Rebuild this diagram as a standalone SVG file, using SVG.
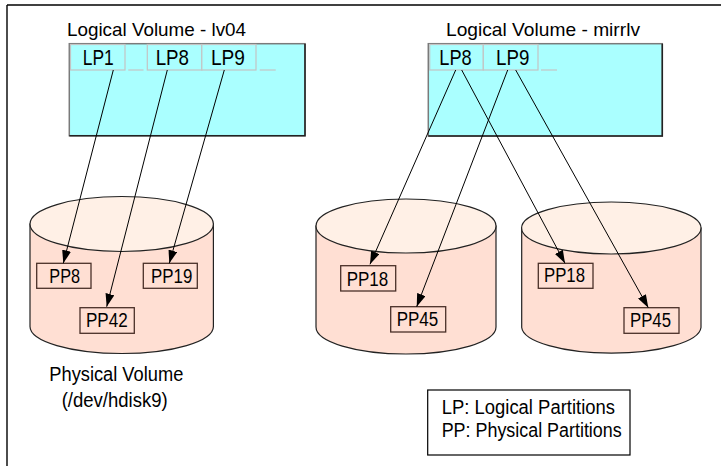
<svg xmlns="http://www.w3.org/2000/svg" width="721" height="466" viewBox="0 0 721 466">
<defs>
<style>
text{font-family:"Liberation Sans",Arial,sans-serif;fill:#000}
.title{font-size:18.6px}
.lp{font-size:22px}
.pp{font-size:20px}
.lbl{font-size:20px}
.lv{fill:#aaffff;stroke:#7a7a7a;stroke-width:1.5}
.lvsh{fill:none;stroke:#222;stroke-width:1.5}
.cell{fill:#aaffff;stroke:#c4c4c4;stroke-width:1.2}
.stub{stroke:#c4c4c4;stroke-width:1.2}
.body{fill:#ffdfd3;stroke:#222;stroke-width:1.2}
.top{fill:#fff0e6;stroke:#222;stroke-width:1.2}
.ppbox{fill:#ffdfd3;stroke:#4a3028;stroke-width:1.3}
.conn{stroke:#000;stroke-width:1;fill:none;marker-end:url(#ah)}
</style>
<marker id="ah" markerUnits="userSpaceOnUse" markerWidth="14" markerHeight="9" refX="13" refY="4.5" orient="auto">
<path d="M0,0 L13,4.5 L0,9 z" fill="#000"/>
</marker>
</defs>
<rect width="721" height="466" fill="#fff"/>
<g id="frame" stroke="#000" stroke-width="1.4">
<line x1="7" y1="5" x2="721" y2="5"/>
<line x1="7" y1="5" x2="7" y2="466"/>
</g>

<g id="lv04">
<text class="title" x="67" y="36" textLength="179" lengthAdjust="spacingAndGlyphs">Logical Volume - lv04</text>
<rect class="lv" x="69.3" y="43.7" width="235.7" height="92"/>
<polyline class="lvsh" points="69.3,135.7 305,135.7 305,43.7"/>
<rect class="cell" x="70.5" y="44.5" width="54.5" height="25.5"/>
<line class="stub" x1="128.3" y1="70" x2="143.5" y2="70"/>
<rect class="cell" x="147.3" y="44.5" width="54.5" height="25.5"/>
<rect class="cell" x="201.8" y="44.5" width="54.2" height="25.5"/>
<line class="stub" x1="259.7" y1="70" x2="275.7" y2="70"/>
<text class="lp" x="82.7" y="65" textLength="31" lengthAdjust="spacingAndGlyphs">LP1</text>
<text class="lp" x="155.7" y="65" textLength="33.3" lengthAdjust="spacingAndGlyphs">LP8</text>
<text class="lp" x="211" y="65" textLength="34" lengthAdjust="spacingAndGlyphs">LP9</text>
</g>

<g id="mirrlv">
<text class="title" x="446" y="36" textLength="194" lengthAdjust="spacingAndGlyphs">Logical Volume - mirrlv</text>
<rect class="lv" x="428.3" y="43.7" width="234" height="92.3"/>
<polyline class="lvsh" points="428.3,136 662.3,136 662.3,43.7"/>
<rect class="cell" x="429.7" y="44.5" width="53.6" height="25.5"/>
<rect class="cell" x="483.3" y="44.5" width="54.7" height="25.5"/>
<line class="stub" x1="541" y1="70" x2="557" y2="70"/>
<text class="lp" x="439.3" y="65" textLength="32.4" lengthAdjust="spacingAndGlyphs">LP8</text>
<text class="lp" x="496" y="65" textLength="33.3" lengthAdjust="spacingAndGlyphs">LP9</text>
</g>

<g id="hdisk9">
<path class="body" d="M30,224 L30,326.5 A91.7,27 0 0 0 213.4,326.5 L213.4,224 Z"/>
<ellipse class="top" cx="121.7" cy="224" rx="91.7" ry="27.5"/>
<rect class="ppbox" x="36.7" y="263.3" width="54.3" height="25"/>
<text class="pp" x="49.3" y="283.3" textLength="30.7" lengthAdjust="spacingAndGlyphs">PP8</text>
<rect class="ppbox" x="143.3" y="263.3" width="54" height="25"/>
<text class="pp" x="151" y="283.3" textLength="41.3" lengthAdjust="spacingAndGlyphs">PP19</text>
<rect class="ppbox" x="80" y="307.7" width="54.3" height="25.6"/>
<text class="pp" x="86" y="326.7" textLength="41.7" lengthAdjust="spacingAndGlyphs">PP42</text>
<text class="lbl" x="49.3" y="381" textLength="134" lengthAdjust="spacingAndGlyphs">Physical Volume</text>
<text class="lbl" x="61.7" y="407" textLength="106" lengthAdjust="spacingAndGlyphs">(/dev/hdisk9)</text>
</g>

<g id="disk-mid">
<path class="body" d="M316,226 L316,327 A90,27 0 0 0 496,327 L496,226 Z"/>
<ellipse class="top" cx="406" cy="226" rx="90" ry="27"/>
<rect class="ppbox" x="340.7" y="265.7" width="55" height="25.3"/>
<text class="pp" x="346.7" y="286" textLength="41.6" lengthAdjust="spacingAndGlyphs">PP18</text>
<rect class="ppbox" x="390.7" y="306.7" width="55" height="25.3"/>
<text class="pp" x="396.7" y="326" textLength="41.6" lengthAdjust="spacingAndGlyphs">PP45</text>
</g>

<g id="disk-right">
<path class="body" d="M521.7,228 L521.7,327.5 A89.7,26.5 0 0 0 701,327.5 L701,228 Z"/>
<ellipse class="top" cx="611.3" cy="228" rx="89.7" ry="26"/>
<rect class="ppbox" x="538.3" y="263.3" width="54.7" height="25"/>
<text class="pp" x="544" y="281.7" textLength="41" lengthAdjust="spacingAndGlyphs">PP18</text>
<rect class="ppbox" x="624" y="307.7" width="55" height="25.6"/>
<text class="pp" x="630" y="326.7" textLength="41" lengthAdjust="spacingAndGlyphs">PP45</text>
</g>

<g id="legend">
<rect x="427.7" y="390" width="202.3" height="65" fill="#fff" stroke="#000" stroke-width="1.2"/>
<text class="lbl" x="441.7" y="414" textLength="173.3" lengthAdjust="spacingAndGlyphs">LP: Logical Partitions</text>
<text class="lbl" x="441.7" y="437" textLength="180" lengthAdjust="spacingAndGlyphs">PP: Physical Partitions</text>
</g>

<g id="connectors">
<line class="conn" x1="113.3" y1="70" x2="63.3" y2="263.3"/>
<line class="conn" x1="167.3" y1="70" x2="106.7" y2="306.7"/>
<line class="conn" x1="224.3" y1="70" x2="169.3" y2="263.3"/>
<line class="conn" x1="455.7" y1="70" x2="370" y2="264.3"/>
<line class="conn" x1="461.7" y1="70" x2="565" y2="263.3"/>
<line class="conn" x1="507.7" y1="70" x2="416.7" y2="306.7"/>
<line class="conn" x1="515.7" y1="70" x2="648.3" y2="307.7"/>
</g>
</svg>
